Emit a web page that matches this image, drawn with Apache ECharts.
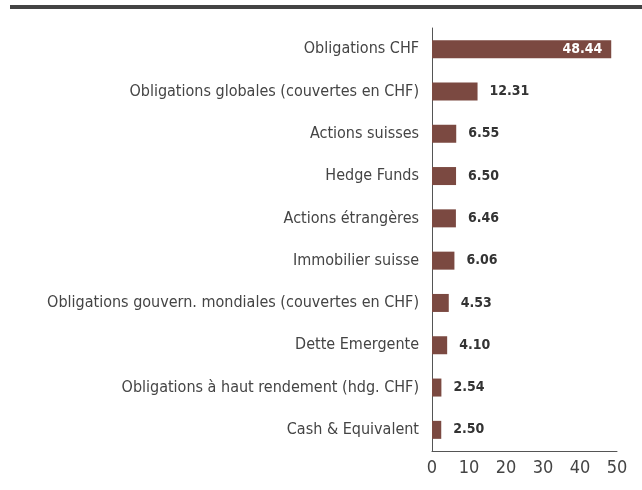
<!DOCTYPE html>
<html>
<head>
<meta charset="utf-8">
<script src="https://cdn.jsdelivr.net/npm/echarts@6/dist/echarts.min.js"></script>
<style>
  html, body { margin: 0; padding: 0; background: #fff; }
  #chart { width: 642px; height: 490px; }
</style>
</head>
<body>
<div id="chart"></div>
<script>
const categories = [
  'Obligations CHF',
  'Obligations globales (couvertes en CHF)',
  'Actions suisses',
  'Hedge Funds',
  'Actions étrangères',
  'Immobilier suisse',
  'Obligations gouvern. mondiales (couvertes en CHF)',
  'Dette Emergente',
  'Obligations à haut rendement (hdg. CHF)',
  'Cash & Equivalent'
]
const values = [48.44, 12.31, 6.55, 6.50, 6.46, 6.06, 4.53, 4.10, 2.54, 2.50]

const font = '"DejaVu Sans Condensed", "Roboto", sans-serif'
const barColor = '#7b4941'

const chart = echarts.init(document.getElementById('chart'), null, { renderer: 'canvas' })

chart.setOption({
  animation: false,
  graphic: [{
    type: 'rect',
    shape: { x: 10, y: 5, width: 632, height: 4 },
    style: { fill: '#444' }
  }],
  grid: { left: 432, right: 25, top: 28, bottom: 39 },
  xAxis: {
    type: 'value',
    min: 0,
    max: 50,
    interval: 10,
    axisLine: { show: true, lineStyle: { color: '#555', width: 1 } },
    axisTick: { show: false },
    splitLine: { show: false },
    axisLabel: { color: '#444', fontFamily: font, fontSize: 18, margin: 8 }
  },
  yAxis: {
    type: 'category',
    inverse: true,
    data: categories,
    axisLine: { show: true, lineStyle: { color: '#555', width: 1 } },
    axisTick: { show: false },
    axisLabel: { color: '#444', fontFamily: font, fontSize: 16, margin: 13 }
  },
  series: [{
    type: 'bar',
    data: values.map((v, i) => ({
      value: v,
      label: i === 0
        ? { position: 'insideRight', color: '#fff', distance: 9 }
        : { position: 'right', color: '#333', distance: 12 }
    })),
    barWidth: 18,
    itemStyle: { color: barColor },
    label: {
      show: true,
      fontFamily: font,
      fontWeight: 'bold',
      fontSize: 14,
      formatter: p => p.value.toFixed(2)
    }
  }]
})
</script>
</body>
</html>
